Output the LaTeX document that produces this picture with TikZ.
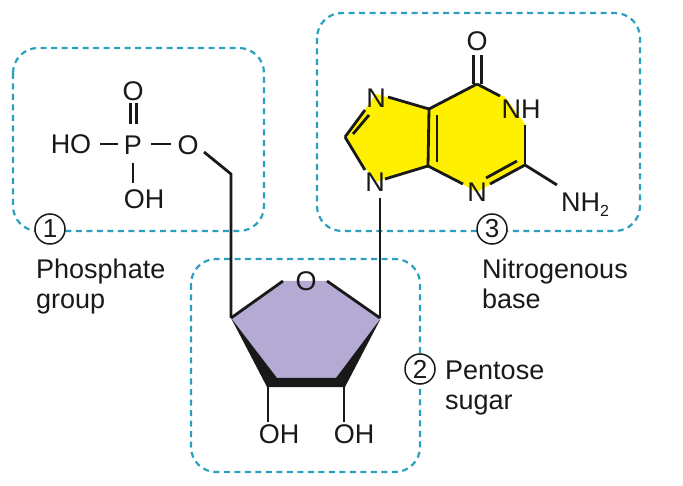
\documentclass[tikz,border=0pt]{standalone}
\usepackage{fontspec}
\setmainfont{Liberation Sans}
\definecolor{dashblue}{RGB}{43,160,190}
\definecolor{baseyellow}{RGB}{255,240,0}
\definecolor{sugarlav}{RGB}{181,170,212}
\definecolor{ink}{RGB}{25,25,25}
\newcommand{\fs}{\fontsize{27}{30}\selectfont}
\tikzset{
  regionbox/.style={draw=dashblue,line width=2.2pt,dash pattern=on 6pt off 4.5pt,rounded corners=25pt},
  bond/.style={draw=ink,line width=2.8pt,line cap=butt,line join=miter},
  atom/.style={text=ink,font=\fs,inner sep=2pt,text height=19pt,text depth=0pt},
  numcircle/.style={circle,draw=ink,line width=1.5pt,fill=white,minimum size=30pt,inner sep=0pt,text=ink,font=\fontsize{26}{26}\selectfont},
  caption/.style={text=ink,font=\fs,align=left,anchor=north west,inner sep=0pt}
}
\begin{document}
\begin{tikzpicture}[x=1pt,y=-1pt]
\useasboundingbox (0,0) rectangle (683,486);
% dashed regions
\draw[regionbox] (13,48) rectangle (264,231);
\draw[regionbox] (317,13) rectangle (640,231);
\draw[regionbox] (191,259) rectangle (420,472);
% vertices
\coordinate (c8) at (345,137);
\coordinate (c4) at (428,166);
\coordinate (c5) at (429,109);
\coordinate (c6) at (477,84);
\coordinate (c2) at (525,165);
\coordinate (s1) at (380,318);
\coordinate (s4) at (231,318);
\coordinate (s3) at (268,385);
\coordinate (s2) at (344,385);
\coordinate (ch2) at (231,174);
\coordinate (oleft) at (283,281);
\coordinate (oright) at (327,281);
\coordinate (n9foot) at (380,198);
% bond ends beside the atom letters
\coordinate (n7a) at (365,110);
\coordinate (n7b) at (388,97);
\coordinate (n9a) at (365,170);
\coordinate (n9b) at (385,179);
\coordinate (n3a) at (463,184);
\coordinate (n3b) at (490,184);
\coordinate (n1a) at (500,96);
\coordinate (n1b) at (525,125);
\coordinate (nh2a) at (557,185);
% fills
\fill[baseyellow] (c8) -- (376,94) -- (c5) -- (c6) -- (505,97) -- (525,124) -- (c2) -- (477,192) -- (c4) -- (375,182) -- cycle;
\fill[sugarlav] (s4) -- (oleft) -- (oright) -- (s1) -- (s2) -- (s3) -- cycle;
% atoms: base
\node[atom] (n7) at (376,98) {N};
\node[atom] (n9) at (375,182) {N};
\node[atom] (n1) at (521,109) {NH};
\node[atom] (n3) at (477,192) {N};
\node[atom] (o6) at (477,41) {O};
\node[atom,inner sep=0pt] (nh2) at (585,202) {NH\raisebox{-5pt}{\fontsize{16}{16}\selectfont 2}};
% atoms: phosphate
\node[atom] (p) at (133,145) {P};
\node[atom] (po) at (133,91) {O};
\node[atom] (ho) at (71,144) {HO};
\node[atom] (o5) at (188,145) {O};
\node[atom] (poh) at (144,199) {OH};
% atoms: sugar
\node[atom] (so) at (306,281) {O};
\node[atom] (oh3) at (279,434) {OH};
\node[atom] (oh2) at (354,434) {OH};
% base bonds
\draw[bond] (c8) -- (n7a);
\draw[bond] (c8) -- (n9a);
\draw[bond] (369,115) -- (353,134);
\draw[bond] (n9b) -- (c4);
\draw[bond] (n7b) -- (c5);
\draw[bond] (c5) -- (c4);
\draw[bond] (437,115) -- (437,162);
\draw[bond] (c4) -- (n3a);
\draw[bond] (c5) -- (c6);
\draw[bond] (c6) -- (n1a);
\draw[bond] (n1b) -- (c2);
\draw[bond] (c2) -- (n3b);
\draw[bond] (517,161) -- (486,178);
\draw[bond] (c2) -- (nh2a);
\draw[bond] (473.5,84) -- (473.5,55);
\draw[bond] (481.3,84) -- (481.3,55);
% phosphate bonds
\draw[bond] (130.3,124) -- (130.3,103);
\draw[bond] (136.3,124) -- (136.3,103);
\draw[bond] (100,144) -- (118,144);
\draw[bond] (151,144) -- (171,144);
\draw[bond] (133,163) -- (133,183);
\draw[bond] (204,152) -- (ch2) -- (s4);
% sugar
\draw[bond] (oleft) -- (s4);
\draw[bond] (oright) -- (s1);
\draw[bond] (n9foot) -- (s1);
\fill[ink] (s4) -- (267,387) -- (345,387) -- (381,318) -- (336,378) -- (277,378) -- cycle;
\draw[bond] (s3) -- (oh3.north -| s3);
\draw[bond] (s2) -- (oh2.north -| s2);
% number circles
\node[numcircle] (k1) at (50,229) {1};
\node[numcircle] (k2) at (420,369) {2};
\node[numcircle] (k3) at (492,229) {3};
% captions
\node[caption] (t1) at (36,259) {Phosphate\\group};
\node[caption] (t2) at (445,361) {Pentose\\sugar};
\node[caption] (t3) at (482,259) {Nitrogenous\\base};
\end{tikzpicture}
\end{document}
